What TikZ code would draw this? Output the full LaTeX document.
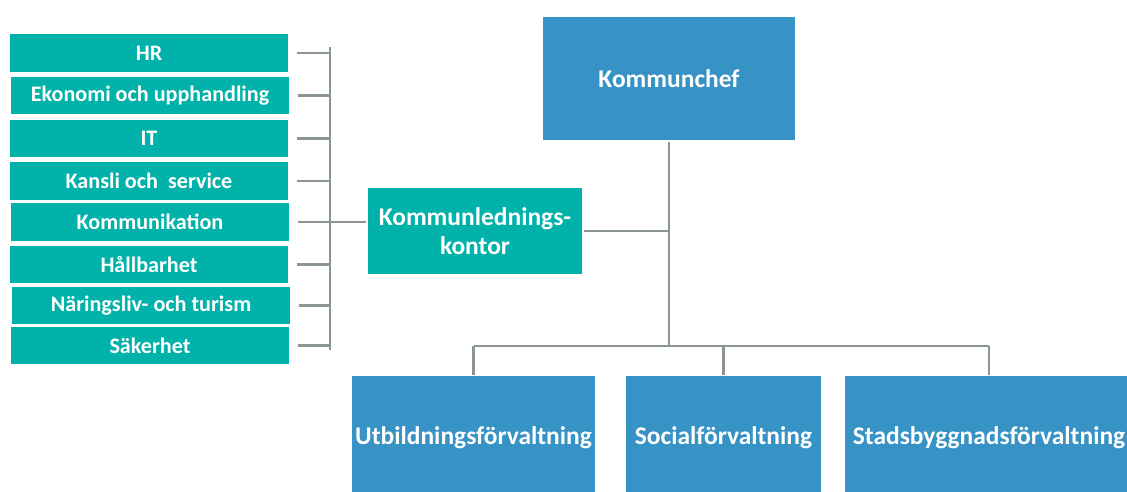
\documentclass[tikz,border=0pt]{standalone}
\usepackage{fontspec}
\setmainfont{Carlito}
\usepackage{tikz}
\usetikzlibrary{positioning,calc}

\definecolor{tealbox}{RGB}{0,178,169}
\definecolor{bluebox}{RGB}{55,146,198}
\definecolor{linegray}{RGB}{140,150,144}

\tikzset{
  unitbox/.style={fill=tealbox, draw=white, line width=0.6pt, text=white, font=\bfseries\fontsize{12.6}{14}\selectfont, minimum width=5.6cm, minimum height=0.77cm, inner sep=0pt},
  officebox/.style={fill=tealbox, draw=white, line width=0.6pt, text=white, font=\bfseries\fontsize{14.5}{16.5}\selectfont, minimum width=4.32cm, minimum height=1.74cm, inner sep=0pt, align=center},
  chiefbox/.style={fill=bluebox, draw=white, line width=0.6pt, text=white, font=\bfseries\fontsize{14.5}{16.5}\selectfont, minimum height=2.5cm, inner sep=0pt},
  link/.style={draw=linegray, line width=1.3pt}
}

\begin{document}
\begin{tikzpicture}[x=0.02cm, y=-0.02cm]
\useasboundingbox (0,0) rectangle (1127,491);
\clip (0,0) rectangle (1127,491);

% Top and office
\node[chiefbox, minimum width=5.08cm] (chef) at (669,78.5) {Kommunchef};
\node[officebox] (klk) at (475,231) {Kommunlednings-\\kontor};

% Departments
\node[chiefbox, minimum width=4.9cm] (utb) at (473.5,438) {Utbildningsförvaltning};
\node[chiefbox, minimum width=3.94cm] (soc) at (723.5,438) {Socialförvaltning};
\node[chiefbox, minimum width=5.8cm] (sbf) at (989,438) {Stadsbyggnadsförvaltning};

% Units on the left
\node[unitbox] (hr)   at (149,53)  {HR};
\node[unitbox] (eko)  at (150,95.5)  {Ekonomi och upphandling};
\node[unitbox] (it)   at (149,138.5) {IT};
\node[unitbox] (kan)  at (149,181) {Kansli och~ service};
\node[unitbox] (komm) at (150,222) {Kommunikation};
\node[unitbox] (hall) at (149,264.5) {Hållbarhet};
\node[unitbox] (nar)  at (151,305.5) {Näringsliv- och turism};
\node[unitbox] (sak)  at (150,345.5) {Säkerhet};

% Bracket
\coordinate (bustop) at (330,47);
\coordinate (busbot) at (330,350);
\draw[link] (bustop) -- (busbot);
\foreach \u in {hr,eko,it,kan,komm,hall,nar,sak}
  \draw[link] (\u.east) ++(7,0) -- (\u.east -| bustop);
\draw[link] (komm.east -| bustop) -- (komm.east -| klk.west);

% Lines in the middle
\coordinate (bar) at (669,346);
\draw[link] (chef.south) -- (bar);
\draw[link] (klk.east) -- (klk.east -| chef.south);
\draw[link] (utb.north |- bar) -- (sbf.north |- bar);
\foreach \d in {utb,soc,sbf}
  \draw[link] (\d.north |- bar) -- (\d.north);

\end{tikzpicture}
\end{document}
